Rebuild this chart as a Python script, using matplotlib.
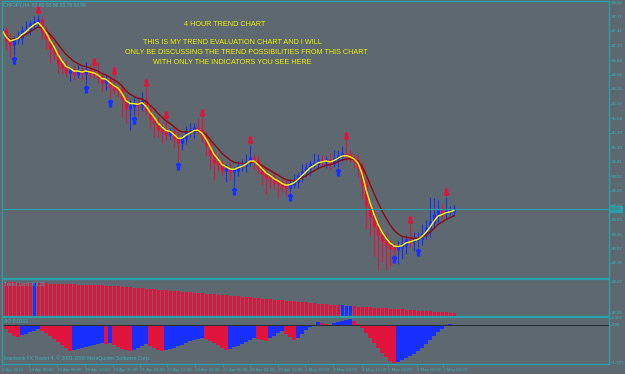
import numpy as np
import pandas as pd
import matplotlib
matplotlib.use("Agg")
import matplotlib.pyplot as plt

# ---- data (CHFJPY, H4) ----
closes = [
    87.44, 87.24, 87.16, 87.26, 87.30, 87.42, 87.46, 87.56, 87.60, 87.64,
    87.42, 87.28, 87.08, 86.98, 86.78, 86.70, 86.60, 86.64, 86.56, 86.62,
    86.58, 86.64, 86.58, 86.56, 86.50, 86.40, 86.44, 86.32, 86.26, 86.24,
    86.06, 85.88, 85.92, 85.96, 85.94, 86.02, 85.84, 85.68, 85.60, 85.46,
    85.42, 85.36, 85.40, 85.28, 85.20, 85.28, 85.40, 85.42, 85.48, 85.44,
    85.32, 85.14, 84.96, 84.80, 84.76, 84.64, 84.66, 84.62, 84.64, 84.72,
    84.74, 84.80, 84.88, 84.82, 84.68, 84.58, 84.50, 84.48, 84.40, 84.38,
    84.32, 84.30, 84.36, 84.42, 84.52, 84.60, 84.68, 84.76, 84.78, 84.84,
    84.82, 84.84, 84.78, 84.86, 84.92, 84.96, 84.94, 84.88, 84.82, 84.70,
    84.36, 83.94, 83.72, 83.52, 83.36, 83.24, 83.16, 83.08, 83.06, 83.10,
    83.14, 83.24, 83.22, 83.26, 83.28, 83.36, 83.48, 83.60, 83.74, 83.82,
    83.78, 83.82, 83.82, 83.86,
]
first_open = 87.40

wick_up = [
    .10, .08, .14, .06, .12, .10, .16, .08, .12, .10,
    .08, .10, .06, .12, .08, .10, .14, .06, .10, .12,
    .08, .16, .10, .12, .24, .06, .10, .08, .20, .06,
    .10, .08, .12, .14, .10, .18, .26, .08, .06, .10,
    .12, .22, .08, .10, .14, .06, .12, .16, .10, .20,
    .24, .08, .10, .06, .12, .08, .10, .14, .06, .10,
    .12, .16, .26, .08, .10, .06, .12, .08, .10, .06,
    .08, .12, .10, .14, .06, .16, .10, .08, .20, .12,
    .10, .08, .14, .18, .12, .16, .26, .10, .08, .12,
    .10, .14, .08, .12, .10, .06, .14, .08, .10, .12,
    .16, .10, .30, .14, .12, .20, .16, .50, .34, .22,
    .14, .28, .10, .08,
]
wick_dn = [
    .12, .20, .26, .22, .10, .14, .08, .12, .10, .08,
    .16, .22, .30, .12, .20, .14, .10, .18, .12, .08,
    .14, .22, .10, .08, .12, .20, .16, .24, .10, .14,
    .36, .30, .44, .18, .22, .12, .10, .20, .30, .16,
    .24, .12, .10, .20, .38, .16, .12, .10, .14, .08,
    .12, .22, .30, .36, .14, .10, .24, .18, .30, .12,
    .10, .14, .08, .16, .12, .24, .34, .20, .14, .30,
    .12, .18, .10, .08, .14, .12, .10, .16, .08, .12,
    .10, .14, .12, .08, .16, .10, .12, .08, .14, .20,
    .30, .48, .40, .60, .72, .44, .52, .36, .10, .30,
    .24, .18, .12, .20, .16, .14, .10, .18, .12, .16,
    .10, .12, .08, .10,
]

sell_arrows = [9, 23, 28, 36, 41, 50, 62, 86, 102, 111]
buy_arrows = [3, 21, 27, 33, 44, 58, 72, 84, 98, 104]

trend = [
    86.26, 86.25, 86.23, 86.22, 86.20, 86.19, 86.18, 86.16, 86.15, 86.13,
    86.12, 86.11, 86.09, 86.08, 86.06, 86.05, 86.04, 86.02, 86.01, 85.99,
    85.98, 85.97, 85.95, 85.94, 85.92, 85.91, 85.90, 85.88, 85.86,
    85.83, 85.79, 85.76, 85.73, 85.69, 85.66, 85.63, 85.59, 85.56, 85.53,
    85.49, 85.46, 85.43, 85.39, 85.36, 85.33, 85.29, 85.26, 85.23, 85.19,
    85.16, 85.13, 85.09, 85.06, 85.03, 84.99, 84.96,
    84.92, 84.89, 84.85, 84.82, 84.78, 84.75, 84.71, 84.67, 84.64, 84.60,
    84.57, 84.53, 84.50, 84.46, 84.42, 84.39, 84.35, 84.32, 84.28, 84.25,
    84.21, 84.17, 84.14, 84.10, 84.07, 84.03, 84.00, 83.96,
    83.93, 83.91, 83.88, 83.85, 83.83, 83.80, 83.77, 83.75, 83.72, 83.69,
    83.67, 83.64, 83.61, 83.59, 83.56, 83.53, 83.51, 83.48, 83.45, 83.43,
    83.40, 83.37, 83.35, 83.32, 83.29, 83.27, 83.24, 83.21, 83.19, 83.16,
]
trend_blue = [8, 85, 86, 87]

ao = [
    -0.02, -0.20, -0.40, -0.55, -0.60, -0.50, -0.45, -0.35, -0.30, -0.20,
    -0.30, -0.40, -0.55, -0.70, -0.85, -1.00, -1.15, -1.30, -1.25, -1.20,
    -1.15, -1.10, -1.05, -1.00, -0.95, -0.90, -0.95, -0.90, -1.00, -1.10,
    -1.20, -1.25, -1.30, -1.25, -1.15, -1.05, -0.95, -1.05, -1.15, -1.25,
    -1.30, -1.25, -1.20, -1.15, -1.05, -1.00, -0.90, -0.80, -0.75, -0.70,
    -0.65, -0.70, -0.80, -0.90, -1.00, -1.15, -1.25, -1.20, -1.10, -1.05,
    -0.95, -0.85, -0.75, -0.65, -0.70, -0.75, -0.80, -0.65, -0.55, -0.40,
    -0.30, -0.45, -0.60, -0.75, -0.65, -0.45, -0.25, -0.10, 0.02, 0.15,
    0.10, 0.05, 0.02, 0.10, 0.15, 0.20, 0.25, 0.30, 0.20, 0.05,
    -0.15, -0.40, -0.65, -0.90, -1.15, -1.40, -1.60, -1.80, -1.90, -1.85,
    -1.75, -1.65, -1.55, -1.45, -1.30, -1.15, -0.95, -0.75, -0.55, -0.35,
    -0.20, -0.02, 0.05, 0.02,
]

time_pos = [0, 6.75, 13.75, 20.75, 27.75, 34.5, 41.25, 48.25, 55.25, 62,
            69, 75.75, 82.75, 90, 96.5, 103.75, 110.25]
time_labels = ["9 Apr 2010", "14 Apr 00:00", "15 Apr 08:00", "16 Apr 12:00",
               "19 Apr 20:00", "21 Apr 04:00", "22 Apr 12:00", "23 Apr 20:00",
               "27 Apr 00:00", "28 Apr 04:00", "29 Apr 16:00", "1 May 20:00",
               "3 May 04:00", "4 May 12:00", "5 May 20:00", "6 May 00:00",
               "7 May 08:00"]

# ---- style ----
BG = "#5d6870"
TEAL = "#2b9fa8"
TXT = "#3cb3bb"
RED = "#e0143c"
BLUE = "#1830ff"
W, H = 625, 374
plt.rcParams["font.family"] = ["Liberation Sans", "DejaVu Sans"]

fig = plt.figure(figsize=(W / 100, H / 100), dpi=100)
fig.patch.set_facecolor(BG)


def px_axes(top, bottom, left=2, right=609):
    ax = fig.add_axes([left / W, 1 - bottom / H, (right - left) / W, (bottom - top) / H])
    ax.set_facecolor(BG)
    for s in ax.spines.values():
        s.set_color(TEAL)
        s.set_linewidth(1)
    ax.yaxis.tick_right()
    ax.tick_params(axis="y", colors=TEAL, labelcolor=TXT, labelsize=3.2, length=1.5, width=0.6, pad=0.5)
    ax.tick_params(axis="x", bottom=False, labelbottom=False)
    ax.set_xlim(0, 151.75)
    return ax


idx = np.arange(len(closes))
c = np.array(closes)
o = np.array([first_open] + closes[:-1])
hi = np.maximum(o, c) + np.array(wick_up)
lo = np.minimum(o, c) - np.array(wick_dn)
col = np.where(c >= o, BLUE, RED)

# ---- main price panel ----
ax = px_axes(1, 278)
ax.set_ylim(82.48, 88.02)
ax.vlines(idx, lo, hi, colors=col, lw=0.8)
ax.vlines(idx, np.minimum(o, c) - 0.02, np.maximum(o, c) + 0.02, colors=col, lw=2.2)
fast = pd.Series(c).ewm(span=3).mean()
slow = pd.Series(c).ewm(span=8).mean()
ax.plot(idx, slow, color="#8a0c10", lw=1.0)
ax.plot(idx, fast, color="#ffff00", lw=1.0)
ax.scatter(sell_arrows, hi[sell_arrows] + 0.1, marker=r"$\Downarrow$", s=24, color=RED, zorder=5)
ax.scatter(buy_arrows, lo[buy_arrows] - 0.1, marker=r"$\Uparrow$", s=24, color=BLUE, zorder=5)
ax.axhline(c[-1], color=TEAL, lw=0.8)
ticks = [round(88.0 - 0.29 * k, 2) for k in range(19)]
ax.set_yticks(ticks)
ax.set_yticklabels([f"{t:.2f}" for t in ticks])
ax.text(1.002, c[-1], f"{c[-1]:.2f}", transform=ax.get_yaxis_transform(), fontsize=3.2,
        color=BG, va="center", ha="left",
        bbox=dict(boxstyle="square,pad=0.15", fc=TEAL, ec=TEAL))

fig.text(3 / W, 1 - 5 / H, "CHFJPY,H4  83.80 83.86 83.78 83.86", color=TXT, fontsize=3.6, va="center")
notes = [("4 HOUR TREND CHART", 225, 25),
         ("THIS IS MY TREND EVALUATION CHART AND I WILL", 232, 43),
         ("ONLY BE DISCUSSING THE TREND POSSIBILITIES FROM THIS CHART", 246, 53),
         ("WITH ONLY THE INDICATORS YOU SEE HERE", 232, 63)]
for txt, x, y in notes:
    fig.text(x / W, 1 - y / H, txt, color="#f0f000", fontsize=5.2, ha="center", va="center")

# ---- trend panel ----
ax2 = px_axes(279, 316)
ax2.set_ylim(82.86, 86.56)
tcol = [BLUE if i in trend_blue else RED for i in idx]
ax2.bar(idx, np.array(trend) - 82.86, bottom=82.86, width=0.75, color=tcol, lw=0)
ax2.set_yticks([86.27, 83.16])
ax2.set_yticklabels(["86.27", "82.86"])
ax2.text(0.004, 0.93, "Trend Lord (8,1,3)", transform=ax2.transAxes, color=TXT, fontsize=3.6, va="top")

# ---- AO panel ----
ax3 = px_axes(317, 364)
ax3.set_ylim(-1.95, 0.40)
a = np.array(ao)
acol = [RED] + [BLUE if a[i] > a[i - 1] else RED for i in range(1, len(a))]
ax3.bar(idx, a, width=0.95, color=acol, lw=0)
ax3.axhline(0, color="#2a3035", lw=0.8)
ax3.set_yticks([0.356, 0.0, -1.85])
ax3.set_yticklabels(["0.356", "0.00", "-1.977"])
ax3.text(0.004, 0.95, f"AO {a[-1]:.4f}", transform=ax3.transAxes, color=TXT, fontsize=3.6, va="top")
ax3.text(0.004, 0.06, "Interbank FX Trader 4, \u00a9 2001-2009 MetaQuotes Software Corp.",
         transform=ax3.transAxes, color=TXT, fontsize=3.6, va="bottom")
ax3.tick_params(axis="x", bottom=True, labelbottom=True, colors=TEAL, labelcolor=TXT,
                labelsize=3.2, length=2.5, width=0.6, pad=0.3)
ax3.set_xticks(time_pos)
ax3.set_xticklabels(time_labels, ha="left")

fig.savefig("out.png", dpi=100, facecolor=BG)
